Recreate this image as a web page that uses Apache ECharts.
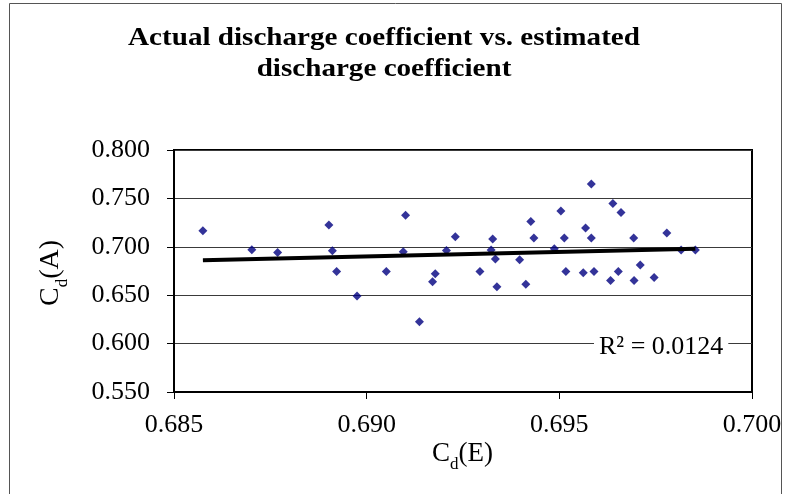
<!DOCTYPE html>
<html>
<head>
<meta charset="utf-8">
<script src="https://cdn.jsdelivr.net/npm/echarts@6/dist/echarts.min.js"></script>
<style>
html,body{margin:0;padding:0;background:#fff;}
#chart{width:791px;height:494px;}
</style>
</head>
<body>
<div id="chart"></div>
<script>
// Estimated discharge coefficient Cd(E)
var cdE = [0.68575,0.68702,0.68769,0.68902,0.68911,0.68922,0.68975,0.69051,0.69101,0.69095,
           0.69137,0.69178,0.69171,0.69230,0.69207,0.69294,0.69327,0.69323,0.69334,0.69338,
           0.69397,0.69413,0.69426,0.69434,0.69487,0.69504,0.69513,0.69517,0.69568,0.69583,
           0.69583,0.69562,0.69590,0.69639,0.69660,0.69633,0.69653,0.69693,0.69694,0.69710,
           0.69746,0.69779,0.69816,0.69853];
// Actual discharge coefficient Cd(A)
var cdA = [0.7165,0.6969,0.6942,0.7224,0.6959,0.6746,0.6491,0.6746,0.7327,0.6948,
           0.6225,0.6721,0.6638,0.7103,0.6963,0.6746,0.7080,0.6966,0.6873,0.6587,
           0.6866,0.6612,0.7262,0.7090,0.6981,0.7369,0.7090,0.6746,0.7193,0.7648,
           0.7090,0.6731,0.6746,0.7448,0.7355,0.6653,0.6746,0.7090,0.6653,0.6811,
           0.6682,0.7142,0.6966,0.6966];
// Linear trendline end points
var trendX = [0.68575, 0.69853];
var trendY = [0.6862, 0.6980];
var xTicks = ['0.685','0.690','0.695','0.700'];
var yTicks = ['0.550','0.600','0.650','0.700','0.750','0.800'];
var titleLines = ['Actual discharge coefficient vs. estimated', 'discharge coefficient'];
var r2Text = 'R\u00b2 = 0.0124';

var pts = cdE.map(function(x,i){return [x, cdA[i]];});
var trend = trendX.map(function(x,i){return [x, trendY[i]];});

var serif = '"Liberation Serif","Times New Roman",serif';
var chart = echarts.init(document.getElementById('chart'));
chart.setOption({
  animation:false,
  backgroundColor:'#fff',
  grid:{left:174,right:39,top:150,bottom:102,show:true,borderColor:'#000',borderWidth:2,backgroundColor:'#fff'},
  xAxis:{
    type:'value', min:0.685, max:0.700, interval:0.005,
    axisLine:{show:true,onZero:false,lineStyle:{color:'#000',width:2}},
    axisTick:{show:true,length:7,lineStyle:{color:'#000',width:1}},
    splitLine:{show:false},
    axisLabel:{margin:20,fontFamily:serif,fontSize:26,color:'#000',
      formatter:function(v){var s=v.toFixed(3);return xTicks.indexOf(s)>=0?s:'';}}
  },
  yAxis:{
    type:'value', min:0.55, max:0.80, interval:0.05,
    axisLine:{show:true,onZero:false,lineStyle:{color:'#000',width:2}},
    axisTick:{show:true,length:7,lineStyle:{color:'#000',width:1}},
    splitLine:{show:true,lineStyle:{color:'#3a3a3a',width:1}},
    axisLabel:{margin:24,fontFamily:serif,fontSize:26,color:'#000',
      formatter:function(v){var s=v.toFixed(3);return yTicks.indexOf(s)>=0?s:'';}}
  },
  graphic:[
    {type:'rect',shape:{x:9.5,y:3.5,width:772,height:500},style:{fill:'none',stroke:'#555',lineWidth:1},z:-10,silent:true},
    {type:'text',x:384,y:23,scaleX:1.12,z:100,
     style:{text:titleLines.join('\n'),fontFamily:serif,fontWeight:'bold',fontSize:26,lineHeight:31,fill:'#000',align:'center'}},
    {type:'text',left:594,top:334,z:100,
     style:{text:r2Text,fontFamily:serif,fontSize:26,fill:'#000',backgroundColor:'#fff',padding:[0,5,0,5]}},
    {type:'text',left:432,top:440,z:100,
     style:{text:'{a|C}{b|d}{a|(E)}',fontFamily:serif,
       rich:{a:{fontFamily:serif,fontSize:27,fill:'#000',verticalAlign:'bottom'},b:{fontFamily:serif,fontSize:17,fill:'#000',verticalAlign:'bottom',padding:[0,0,-6,0]}}}},
    {type:'text',x:37,y:306,rotation:Math.PI/2,z:100,
     style:{text:'{a|C}{b|d}{a|(A)}',fontFamily:serif,
       rich:{a:{fontFamily:serif,fontSize:28,fill:'#000',verticalAlign:'bottom'},b:{fontFamily:serif,fontSize:17,fill:'#000',verticalAlign:'bottom',padding:[0,0,-6,0]}}}}
  ],
  series:[
    {type:'scatter',data:pts,symbol:'diamond',symbolSize:9,itemStyle:{color:'#000080'},z:3},
    {type:'line',data:trend,symbol:'none',lineStyle:{color:'#000',width:4},z:4}
  ]
});
</script>
</body>
</html>
